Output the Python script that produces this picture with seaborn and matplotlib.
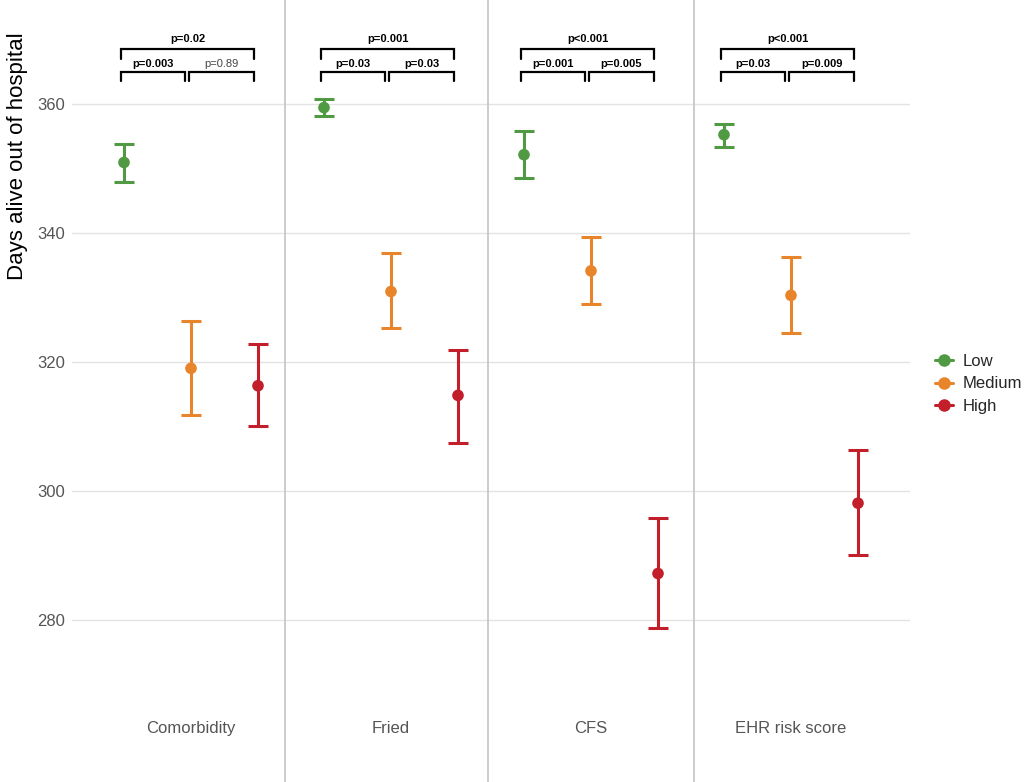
import matplotlib
matplotlib.use("Agg")
import matplotlib.pyplot as plt
from matplotlib.lines import Line2D
import seaborn as sns
import pandas as pd
import numpy as np

# ---------------- data ----------------
panels = ["Comorbidity", "Fried", "CFS", "EHR risk score"]
levels = ["Low", "Medium", "High"]

mean_low = [350.9, 359.4, 352.1, 355.2]
lo_low = [347.9, 358.1, 348.5, 353.3]
hi_low = [353.8, 360.8, 355.7, 356.9]

mean_med = [319.0, 330.9, 334.1, 330.3]
lo_med = [311.7, 325.3, 328.9, 324.4]
hi_med = [326.3, 336.8, 339.4, 336.2]

mean_high = [316.3, 314.8, 287.2, 298.1]
lo_high = [310.0, 307.5, 278.7, 290.0]
hi_high = [322.7, 321.9, 295.8, 306.3]

# p-values: overall (Low vs High), Low vs Medium, Medium vs High
p_overall = ["p=0.02", "p=0.001", "p<0.001", "p<0.001"]
p_low_med = ["p=0.003", "p=0.03", "p=0.001", "p=0.03"]
p_med_high = ["p=0.89", "p=0.03", "p=0.005", "p=0.009"]

yticks = [280, 300, 320, 340, 360]
colors = {"Low": "#4f9a43", "Medium": "#e8842a", "High": "#c21f2b"}

# ---------------- frame ----------------
rows = []
for i, p in enumerate(panels):
    for j, (lv, m, lo, hi) in enumerate(zip(levels,
                                            [mean_low, mean_med, mean_high],
                                            [lo_low, lo_med, lo_high],
                                            [hi_low, hi_med, hi_high])):
        rows.append(dict(panel=p, pidx=i, level=lv, lidx=j,
                         mean=m[i], lo=lo[i], hi=hi[i]))
df = pd.DataFrame(rows)
offset = 0.335
df["x"] = df["pidx"] + (df["lidx"] - 1) * offset

sns.set_theme(style="white")
plt.rcParams["font.family"] = ["Liberation Sans", "DejaVu Sans"]

fig = plt.figure(figsize=(10.27, 7.82), dpi=100)
ax = fig.add_axes([72 / 1027, 1 - 700 / 782, (910 - 72) / 1027, 695 / 782])

# gridlines
for t in yticks:
    ax.axhline(t, color="#e3e3e3", lw=1.0, zorder=0)

# error bars
for lv in levels:
    sub = df[df.level == lv]
    ax.errorbar(sub["x"], sub["mean"],
                yerr=[sub["mean"] - sub["lo"], sub["hi"] - sub["mean"]],
                fmt="none", ecolor=colors[lv], elinewidth=2.2,
                capsize=7.2, capthick=2.2, zorder=2)

sns.scatterplot(data=df, x="x", y="mean", hue="level", palette=colors,
                hue_order=levels, s=70, edgecolor="none", legend=False,
                ax=ax, zorder=3)

ax.set_xlim(-0.595, 3.595)
ax.set_ylim(267.6, 375.3)
ax.set_yticks(yticks)
ax.set_yticklabels([str(t) for t in yticks], fontsize=12, color="#555555")
ax.set_xticks(range(len(panels)))
ax.set_xticklabels(panels, fontsize=12, color="#555555")
ax.tick_params(axis="both", length=0, pad=5)
ax.tick_params(axis="x", pad=15)
ax.set_xlabel("")
ax.set_ylabel("")
for s in ax.spines.values():
    s.set_visible(False)

# panel separators
for xs in [0.47, 1.485, 2.515]:
    ax.axvline(xs, ymin=-0.13, ymax=1.01, color="#c8c8c8", lw=1.3,
               clip_on=False, zorder=0)

# brackets
def bracket(x0, x1, y, leg):
    ax.plot([x0, x0, x1, x1], [y - leg, y, y, y - leg], color="black",
            lw=1.6, solid_joinstyle="miter", clip_on=False, zorder=4)

def is_sig(lbl):
    if "<" in lbl:
        return True
    return float(lbl.split("=")[1]) < 0.05

y_top, y_low, leg = 368.5, 364.95, 1.5
for i in range(len(panels)):
    xl = i - offset - 0.015
    xm = i
    xr = i + offset - 0.02
    bracket(xl, xr, y_top, leg)
    bracket(xl, xm - 0.03, y_low, leg)
    bracket(xm - 0.01, xr, y_low, leg)
    for lbl, xc, yc in [(p_overall[i], (xl + xr) / 2, 370.1),
                        (p_low_med[i], (xl + xm - 0.03) / 2, 366.1),
                        (p_med_high[i], (xm - 0.01 + xr) / 2, 366.1)]:
        sig = is_sig(lbl)
        ax.text(xc, yc, lbl, ha="center", va="center", fontsize=8,
                fontweight="bold" if sig else "normal",
                color="black" if sig else "#444444", zorder=5)

# y label
fig.text(18 / 1027, 1 - 156 / 782, "Days alive out of hospital",
         rotation=90, ha="center", va="center", fontsize=16, color="black")

# legend
handles = [Line2D([0], [0], color=colors[lv], marker="o", markersize=8,
                  lw=2.2) for lv in levels]
fig.legend(handles, levels, loc="center left",
           bbox_to_anchor=(928 / 1027, 1 - 384 / 782), frameon=False,
           fontsize=12, handlelength=1.1, handletextpad=0.6,
           labelspacing=0.45, borderaxespad=0)

fig.savefig("out.png", dpi=100)
